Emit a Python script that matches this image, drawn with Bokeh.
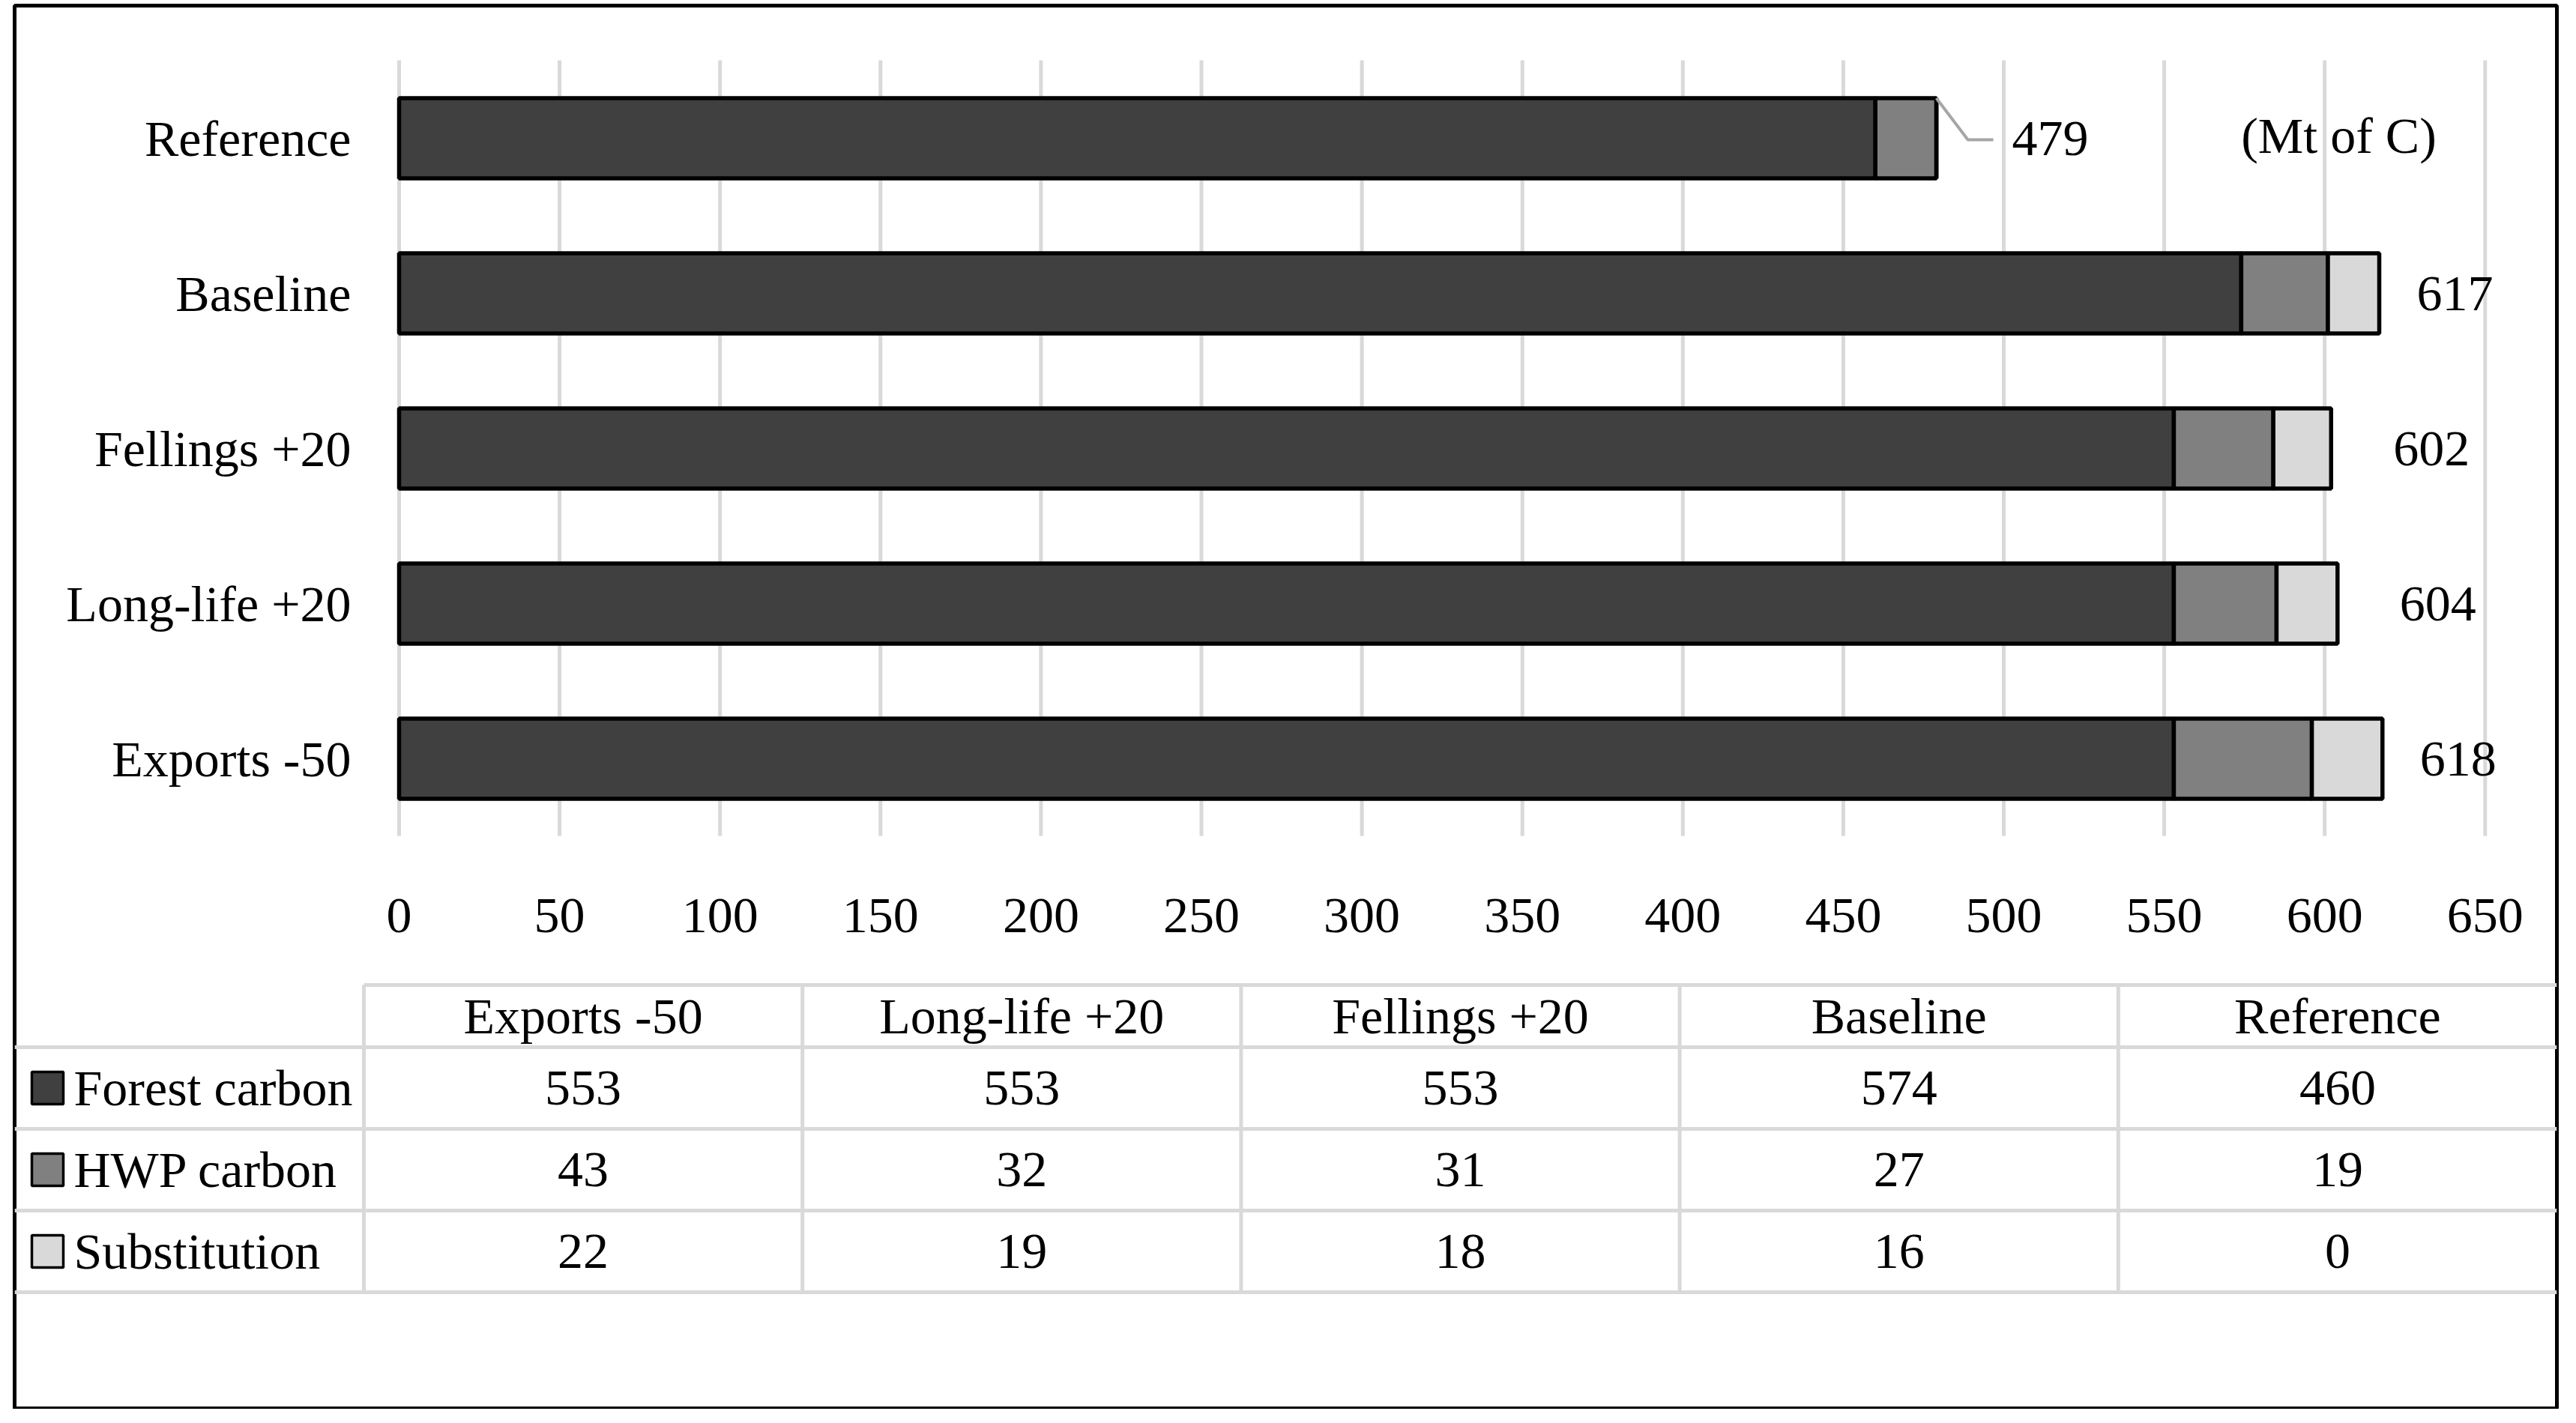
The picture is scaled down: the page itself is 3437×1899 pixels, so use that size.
from bokeh.plotting import figure
from bokeh.models import Range1d, LinearAxis, FixedTicker, ColumnDataSource
from bokeh.core.properties import value
from bokeh.embed import file_html
from bokeh.resources import INLINE

# ---------------- data ----------------
categories = ["Exports -50", "Long-life +20", "Fellings +20", "Baseline", "Reference"]
series_names = ["Forest carbon", "HWP carbon", "Substitution"]
forest_carbon = [553, 553, 553, 574, 460]
hwp_carbon = [43, 32, 31, 27, 19]
substitution = [22, 19, 18, 16, 0]
x_ticks = [0, 50, 100, 150, 200, 250, 300, 350, 400, 450, 500, 550, 600, 650]
unit_label = "(Mt of C)"
leader_category = "Reference"

# ---------------- styles / layout ----------------
colors = ["#404040", "#808080", "#d9d9d9"]
FONT = "Liberation Serif"
FS = "68px"
GRID_COLOR = "#d9d9d9"

W, H = 3420, 1880           # figure size (page offset 8px)
PAGE = 8
FR_L, FR_R, FR_T, FR_B = 27, 3419, 15, 1887   # frame (outer border) in page px
X0_PX, PX_PER_UNIT = 540, 4.282                # value 0 position and scale
PLOT_T, PLOT_B = 88, 1123                      # gridline extent
SLOT, CENTER0, BAR_H = 207, 192, 107
TBL_L = 493
TBL_TOP, TBL_HDR_B = 1322, 1405
ROW_H = 109
LABEL_DX = {"Exports -50": 50, "Long-life +20": 83, "Fellings +20": 83, "Baseline": 50, "Reference": 101}


def val_at(px):
    return (px - X0_PX) / PX_PER_UNIT


p = figure(width=W, height=H, output_backend="svg", toolbar_location=None,
           x_axis_location=None, y_axis_location=None,
           x_range=Range1d(val_at(FR_L), val_at(FR_R)),
           y_range=Range1d(start=FR_B, end=FR_T),
           min_border_left=FR_L - PAGE, min_border_right=W - (FR_R - PAGE),
           min_border_top=FR_T - PAGE, min_border_bottom=H - (FR_B - PAGE),
           background_fill_color="white", border_fill_color="white")
p.extra_x_ranges = {"px": Range1d(FR_L, FR_R)}
p.outline_line_color = "black"
p.outline_line_width = 5
p.grid.visible = False

n = len(categories)
rows = [n - 1 - i for i in range(n)]           # Reference on top
bar_y = [CENTER0 + SLOT * r for r in rows]

# gridlines
p.segment(x0=x_ticks, x1=x_ticks, y0=[PLOT_T] * len(x_ticks), y1=[PLOT_B] * len(x_ticks),
          line_color=GRID_COLOR, line_width=5)

# stacked bars
lefts = [0] * n
for vals, col in zip([forest_carbon, hwp_carbon, substitution], colors):
    rights = [l + v for l, v in zip(lefts, vals)]
    src = ColumnDataSource(dict(y=bar_y, left=lefts, right=rights))
    p.hbar(y="y", left="left", right="right", height=BAR_H, source=src,
           fill_color=col, line_color="black", line_width=5.5)
    lefts = rights
totals = lefts

# total labels
for cat, tot, y in zip(categories, totals, bar_y):
    p.text(x=[tot], y=[y], text=[str(tot)], x_offset=LABEL_DX[cat],
           text_font=value(FONT), text_font_size=value(FS), text_color="black",
           text_align="left", text_baseline="middle")
    if cat == leader_category:
        top = y - BAR_H / 2
        p.line(x=[tot, tot + 42 / PX_PER_UNIT, tot + 76 / PX_PER_UNIT], y=[top, y + 2, y + 2],
               line_color="#a6a6a6", line_width=4)

# unit label
p.text(x=[3128], y=[188], text=[unit_label], x_range_name="px",
       text_font=value(FONT), text_font_size=value(FS), text_color="black",
       text_align="center", text_baseline="middle")

# x axis (value axis)
xax = LinearAxis(ticker=FixedTicker(ticks=x_ticks), fixed_location=PLOT_B)
xax.axis_line_color = None
xax.major_tick_line_color = None
xax.minor_tick_line_color = None
xax.major_label_standoff = 78
xax.major_label_text_font = FONT
xax.major_label_text_font_size = FS
xax.major_label_text_color = "black"
p.add_layout(xax, "below")

# y axis (categories)
yax = LinearAxis(ticker=FixedTicker(ticks=bar_y), fixed_location=0)
yax.major_label_overrides = {y: c for y, c in zip(bar_y, categories)}
yax.axis_line_color = None
yax.major_tick_line_color = None
yax.minor_tick_line_color = None
yax.major_label_standoff = 58
yax.major_label_text_font = FONT
yax.major_label_text_font_size = FS
yax.major_label_text_color = "black"
p.add_layout(yax, "left")

# ---------------- data table ----------------
col_w = (FR_R - TBL_L) / n
col_edges = [TBL_L + k * col_w for k in range(n)]
col_centers = [e + col_w / 2 for e in col_edges]
hdr_y = (TBL_TOP + TBL_HDR_B) / 2
row_lines = [TBL_HDR_B + ROW_H * k for k in range(len(series_names) + 1)]
row_centers = [TBL_HDR_B + ROW_H * (k + 0.5) for k in range(len(series_names))]

# lines
p.segment(x0=[TBL_L], x1=[FR_R], y0=[TBL_TOP], y1=[TBL_TOP], x_range_name="px",
          line_color=GRID_COLOR, line_width=5)
p.segment(x0=[FR_L] * len(row_lines), x1=[FR_R] * len(row_lines), y0=row_lines, y1=row_lines,
          x_range_name="px", line_color=GRID_COLOR, line_width=5)
p.segment(x0=col_edges, x1=col_edges, y0=[TBL_TOP] * n, y1=[row_lines[-1]] * n,
          x_range_name="px", line_color=GRID_COLOR, line_width=5)

# header
p.text(x=col_centers, y=[hdr_y] * n, text=categories, x_range_name="px",
       text_font=value(FONT), text_font_size=value(FS), text_color="black",
       text_align="center", text_baseline="middle")

# legend keys + row names
p.rect(x=[71] * 3, y=row_centers, width=42, height=43, x_range_name="px",
       fill_color=colors, line_color="black", line_width=3.5)
p.text(x=[106] * 3, y=row_centers, text=series_names, x_range_name="px",
       text_font=value(FONT), text_font_size=value(FS), text_color="black",
       text_align="left", text_baseline="middle")

# values
for vals, yc in zip([forest_carbon, hwp_carbon, substitution], row_centers):
    p.text(x=col_centers, y=[yc] * n, text=[str(v) for v in vals], x_range_name="px",
           text_font=value(FONT), text_font_size=value(FS), text_color="black",
           text_align="center", text_baseline="middle")

open("out.html", "w").write(file_html(p, INLINE))
